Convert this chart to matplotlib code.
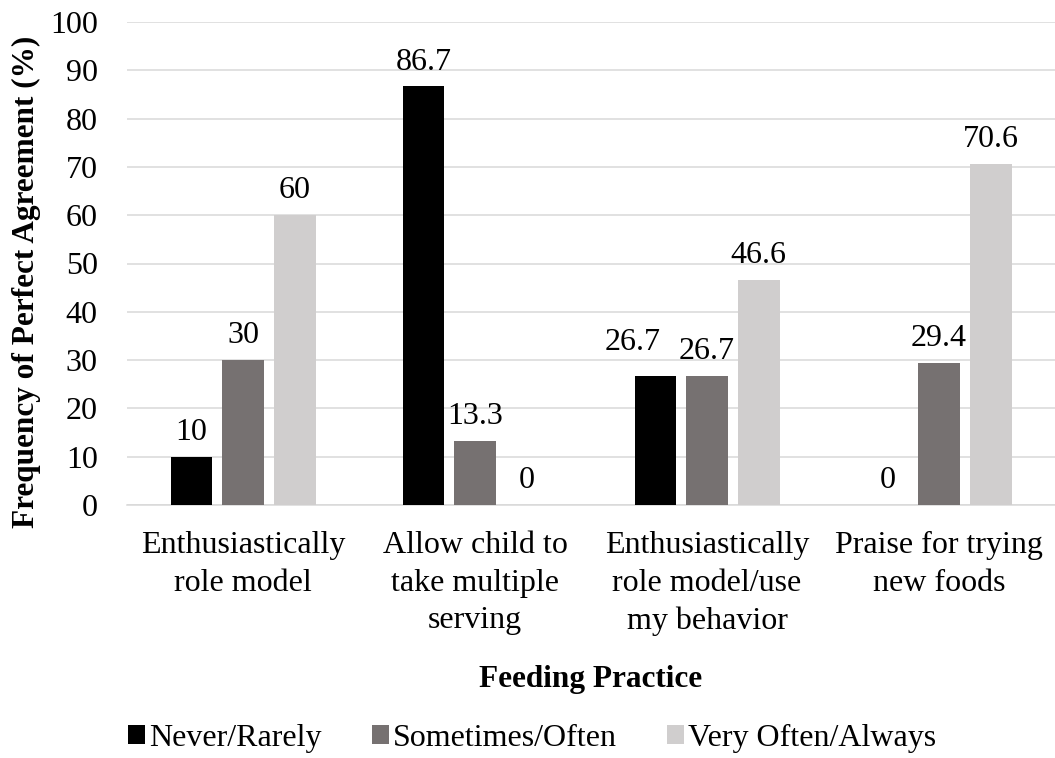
import numpy as np
import matplotlib
matplotlib.use('Agg')
import matplotlib.pyplot as plt

plt.rcParams['font.family'] = ['Liberation Serif', 'DejaVu Serif']

# feeding practices and agreement percentages per frequency group
practices = ['Enthusiastically\nrole model',
             'Allow child to\ntake multiple\nserving',
             'Enthusiastically\nrole model/use\nmy behavior',
             'Praise for trying\nnew foods']
never_rarely = [10, 86.7, 26.7, 0]
sometimes_often = [30, 13.3, 26.7, 29.4]
very_often_always = [60, 0, 46.6, 70.6]

series_names = ['Never/Rarely', 'Sometimes/Often', 'Very Often/Always']
colors = ['#000000', '#767171', '#D0CECE']

# (series, category) -> label offset in points, to keep neighbouring labels apart
label_nudge = {(0, 2): (-16.5, 14)}

W, H = 1055, 758
fig = plt.figure(figsize=(W / 100, H / 100), dpi=100)
ax = fig.add_axes([127 / W, 1 - 505 / H, 928 / W, 483 / H])

x = np.arange(len(practices))
width = 0.181
step = 0.222

for i, (vals, name, col) in enumerate(zip([never_rarely, sometimes_often, very_often_always],
                                          series_names, colors)):
    pos = x + (i - 1) * step
    ax.bar(pos, vals, width, color=col, label=name, zorder=3)
    for j, (px, v) in enumerate(zip(pos, vals)):
        off = label_nudge.get((i, j), (0, 7))
        ax.annotate('%g' % v, (px, v), xytext=off, textcoords='offset points',
                    ha='center', va='bottom', fontsize=23)

ax.set_xlim(-0.5, len(practices) - 0.5)
ax.set_ylim(0, 100)
ax.set_yticks(range(0, 101, 10))
ax.set_xticks(x)
ax.set_xticklabels(practices, fontsize=23, linespacing=1.38)
ax.tick_params(axis='y', labelsize=23, length=0, pad=21)
ax.tick_params(axis='x', length=0, pad=19)

ax.grid(axis='y', color='#D9D9D9', linewidth=1.1, zorder=0)
for s in ['top', 'right', 'left']:
    ax.spines[s].set_visible(False)
ax.spines['bottom'].set_color('#D9D9D9')
ax.spines['bottom'].set_linewidth(1.1)

fig.text(26 / W, 1 - 282 / H, 'Frequency of Perfect Agreement (%)', rotation=90,
         fontsize=22.5, fontweight='bold', ha='center', va='center')
fig.text(591 / W, 1 - 679 / H, 'Feeding Practice', fontsize=22.5, fontweight='bold',
         ha='center', va='center')

fig.legend(loc='center', bbox_to_anchor=(532 / W, 1 - 738 / H), ncol=3, frameon=False,
           fontsize=23, handlelength=0.53, handleheight=0.53, handletextpad=0.12,
           columnspacing=1.58)

fig.savefig('out.png', dpi=100)
